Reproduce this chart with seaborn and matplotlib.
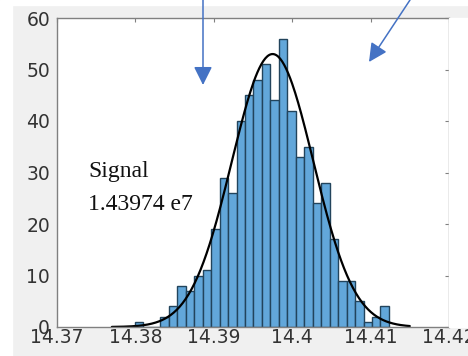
import numpy as np
import pandas as pd
import matplotlib
matplotlib.use('Agg')
import matplotlib.pyplot as plt
import seaborn as sns
from matplotlib.patches import Rectangle, FancyArrowPatch

# histogram (x in units of 1e6)
bin_start = 14.37994
bin_width = 0.00108
counts = [1, 0, 0, 2, 4, 8, 7, 10, 11, 19, 29, 26, 40, 45, 48, 51,
          44, 56, 42, 33, 35, 24, 28, 17, 9, 9, 5, 1, 2, 4]

# normal fit drawn over the histogram
fit_mu = 14.3975
fit_sigma = 0.0052
fit_peak = 53.0
fit_range = (14.377, 14.415)

xticks = [14.37, 14.38, 14.39, 14.40, 14.41, 14.42]
xtick_labels = ['14.37', '14.38', '14.39', '14.4', '14.41', '14.42']
yticks = [0, 10, 20, 30, 40, 50, 60]

edges = bin_start + bin_width * np.arange(len(counts) + 1)
hist_df = pd.DataFrame({'x': (edges[:-1] + edges[1:]) / 2, 'n': counts})

xs = np.linspace(fit_range[0], fit_range[1], 300)
fit_df = pd.DataFrame({'x': xs, 'y': fit_peak * np.exp(-0.5 * ((xs - fit_mu) / fit_sigma) ** 2)})

sns.set_theme(style='white')
plt.rcParams['font.family'] = ['DejaVu Sans']

W, H = 468, 356
fig = plt.figure(figsize=(W / 100, H / 100), dpi=100, facecolor='#f0f0f0')

# white margins of the screenshot
fig.patches.append(Rectangle((0, 0), 12 / W, 1, transform=fig.transFigure, color='white', zorder=0))
fig.patches.append(Rectangle((0, 1 - 5 / H), 1, 5 / H, transform=fig.transFigure, color='white', zorder=0))
fig.patches.append(Rectangle((449 / W, 29 / H), 19 / W, 309 / H, transform=fig.transFigure, color='white', zorder=0))

ax = fig.add_axes([57 / W, 29 / H, 392 / W, 309 / H])
ax.set_facecolor('white')

sns.histplot(data=hist_df, x='x', weights='n', bins=list(edges), color='#62a7da', alpha=1,
             edgecolor='#22445c', linewidth=1, ax=ax)
sns.lineplot(data=fit_df, x='x', y='y', color='black', linewidth=1.6, ax=ax)

ax.set_xlim(14.37, 14.42)
ax.set_ylim(0, 60)
ax.set_xticks(xticks)
ax.set_xticklabels(xtick_labels)
ax.set_yticks(yticks)
ax.set_xlabel('')
ax.set_ylabel('')
ax.tick_params(direction='in', top=True, right=True, length=3, width=0.8,
               colors='#808080', labelcolor='#333333', labelsize=13.5)
ax.tick_params(axis='x', pad=1)
ax.tick_params(axis='y', pad=5)
for s in ax.spines.values():
    s.set_color('#808080')
    s.set_linewidth(1.0)

fig.text(88 / W, 1 - 177 / H, 'Signal', family='Liberation Serif', fontsize=17,
         color='#111111', va='baseline', ha='left')
fig.text(88 / W, 1 - 210 / H, '1.43974 e7', family='Liberation Serif', fontsize=17,
         color='#111111', va='baseline', ha='left')

# blue arrows drawn on top of the screenshot
blue = '#4472c4'
for (x0, y0), (x1, y1) in [((203, 0), (203, 85)), ((410, 0), (369, 62))]:
    fig.patches.append(FancyArrowPatch((x0 / W, 1 - y0 / H), (x1 / W, 1 - y1 / H),
                                       transform=fig.transFigure,
                                       arrowstyle='-|>,head_length=0.8,head_width=0.4',
                                       mutation_scale=14, color=blue, linewidth=1.1,
                                       shrinkA=0, shrinkB=0, zorder=10))

fig.savefig('out.png', dpi=100, facecolor=fig.get_facecolor())
